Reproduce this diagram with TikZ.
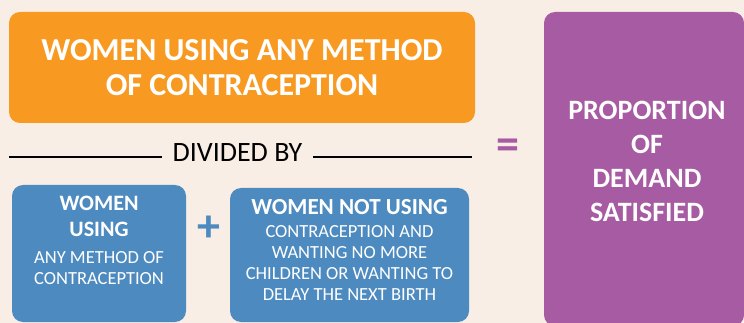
\documentclass[tikz,border=0pt]{standalone}
\usepackage{fontspec}
\setmainfont{Carlito}
\usetikzlibrary{positioning}
\definecolor{bgcream}{HTML}{F8EEE6}
\definecolor{dsorange}{HTML}{F89A21}
\definecolor{dspurple}{HTML}{A65BA2}
\definecolor{dsblue}{HTML}{4D8ABF}
\newcommand{\bigline}{\fontsize{22}{21}\selectfont\bfseries}
\newcommand{\smallline}{\fontsize{18.5}{21}\selectfont\mdseries}
\begin{document}
\begin{tikzpicture}[x=1pt,y=-1pt,
    box/.style={rounded corners=11pt,inner sep=0pt,text=white,align=center},
    bluebox/.style={box,fill=dsblue},
    boxtxt/.style={text=white,align=center,inner sep=0pt,font=\fontsize{18}{21}\selectfont},
    rule/.style={line width=1.6pt,black}]
  \fill[bgcream] (0,0) rectangle (744,323);
  \useasboundingbox (0,0) rectangle (744,323);
  % numerator
  \node[box,fill=dsorange,minimum width=466pt,minimum height=111pt,
        font=\fontsize{32}{35}\selectfont\bfseries] (users) at (242,67.5)
        {WOMEN USING ANY METHOD\\OF CONTRACEPTION};
  % result
  \node[box,fill=dspurple,minimum width=200pt,minimum height=314pt] (demand) at (644,169) {};
  \node[boxtxt,font=\fontsize{28}{34}\selectfont\bfseries] (demandtxt) at (647,161)
        {PROPORTION\\OF\\DEMAND\\SATISFIED};
  \node[text=dspurple,inner sep=0pt,font=\fontsize{46}{46}\selectfont\bfseries] (equals) at (507.5,149.5) {=};
  % divided by
  \node[inner sep=0pt,font=\fontsize{28}{28}\selectfont] (divided) at (237.5,153) {DIVIDED BY};
  \coordinate (ruleLa) at (9,157);
  \coordinate (ruleLb) at (162,157);
  \coordinate (ruleRa) at (313,157);
  \coordinate (ruleRb) at (472,157);
  \draw[rule] (ruleLa) -- (ruleLb);
  \draw[rule] (ruleRa) -- (ruleRb);
  % denominator
  \node[bluebox,minimum width=174pt,minimum height=137pt] (usebox) at (99,253.5) {};
  \node[boxtxt,below=11pt of usebox.north] (usetxt)
        {\bigline WOMEN\\[5pt]\bigline USING\\[6pt]\smallline ANY METHOD OF\\\smallline CONTRACEPTION};
  \node[text=dsblue,inner sep=0pt,font=\fontsize{46}{46}\selectfont\bfseries] (plus) at (209,229) {+};
  \node[bluebox,minimum width=239pt,minimum height=134pt] (needbox) at (349.5,255) {};
  \node[boxtxt,below=11pt of needbox.north] (needtxt)
        {\fontsize{23}{21}\selectfont\bfseries WOMEN NOT USING\\[2pt]\smallline CONTRACEPTION AND\\\smallline WANTING NO MORE\\\smallline CHILDREN OR WANTING TO\\\smallline DELAY THE NEXT BIRTH};
\end{tikzpicture}
\end{document}
